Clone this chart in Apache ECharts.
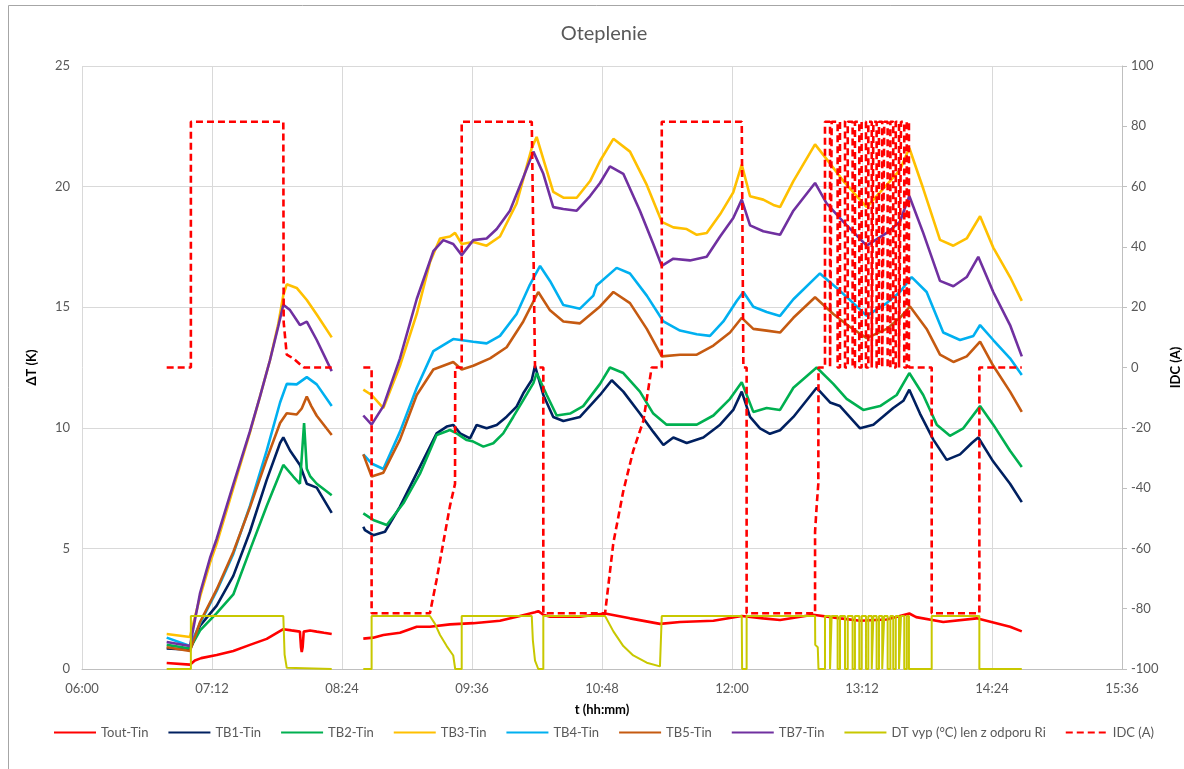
<!DOCTYPE html>
<html>
<head>
<meta charset="utf-8">
<title>Oteplenie</title>
<script src="https://cdn.jsdelivr.net/npm/echarts@6/dist/echarts.min.js"></script>
<style>
  html, body { margin: 0; padding: 0; background: #ffffff; }
  #chart { width: 1184px; height: 769px; }
</style>
</head>
<body>
<div id="chart"></div>
<script>
// Time is stored as minutes since midnight; '-' marks the pause between the two runs.
const timeTicks = ['06:00', '07:12', '08:24', '09:36', '10:48', '12:00', '13:12', '14:24', '15:36'];
const dtTicks = [0, 5, 10, 15, 20, 25];
const idcTicks = [-100, -80, -60, -40, -20, 0, 20, 40, 60, 80, 100];

const seriesNames = ['Tout-Tin', 'TB1-Tin', 'TB2-Tin', 'TB3-Tin', 'TB4-Tin', 'TB5-Tin', 'TB7-Tin',
  'DT vyp (°C) len z odporu Ri', 'IDC (A)'];

const toutTin = [
  [406.9,0.25],[419.8,0.18],[422.5,0.35],[426,0.45],[434.6,0.58],[443.8,0.75],[453.0,1.0],[462.3,1.25],
  [471.5,1.65],[476,1.6],[480.7,1.55],[481.3,0.9],[481.7,0.7],[482.2,0.9],[482.8,1.55],[486.3,1.6],
  [490,1.55],[494,1.5],[498.3,1.45],
  [506,'-'],
  [515.8,1.26],[521.3,1.3],[526.9,1.41],[536.1,1.5],[545.4,1.75],[552.7,1.75],[563.8,1.85],[576.7,1.9],
  [591.5,2.0],[602.6,2.2],[610.9,2.35],[612.7,2.4],[615.5,2.25],[619.2,2.17],[635.8,2.17],[649.7,2.3],
  [663.5,2.1],[680.1,1.87],[691.2,1.95],[709.7,2.0],[725.4,2.2],[737.3,2.1],[746.6,2.03],[764.9,2.25],
  [780,2.1],[790.9,2.0],[805.7,2.05],[818.2,2.3],[822,2.15],[837,1.95],[855.5,2.1],[874,1.75],[880.5,1.56]
];

const tb1Tin = [
  [406.9,0.85],[419.8,0.8],[425.4,1.8],[434.6,2.63],[443.8,3.86],[453.0,5.69],[462.3,7.84],[469.7,9.37],
  [471.5,9.6],[475.2,9.06],[480.7,8.46],[484.5,7.68],[490.0,7.52],[498.3,6.47],
  [506,'-'],
  [515.8,5.9],[516.7,5.76],[521.3,5.55],[527.8,5.69],[536.1,6.73],[547.2,8.39],[556.4,9.77],[562.0,10.05],
  [565.6,10.12],[569.4,9.77],[574.9,9.56],[578.6,10.12],[584.1,9.98],[589.7,10.12],[595.2,10.46],
  [600.7,10.88],[604.4,11.43],[609.1,11.98],[610.9,12.57],[615.5,11.36],[621.0,10.45],[626.6,10.28],
  [635.8,10.45],[646.9,11.36],[653.4,11.97],[659.8,11.5],[669.0,10.59],[676.4,9.83],[682.0,9.29],
  [687.5,9.6],[694.9,9.37],[704.1,9.6],[713.4,10.13],[720.7,10.74],[725.4,11.5],[730.0,10.45],
  [735.5,9.98],[741.0,9.75],[746.6,9.9],[754.0,10.45],[766.9,11.66],[774.3,11.05],[779.8,10.9],
  [790.9,9.98],[798.3,10.13],[809.3,10.82],[814.9,11.12],[818.2,11.58],[824.1,10.59],[831.5,9.51],
  [838.9,8.67],[846.3,8.9],[852.8,9.37],[856.4,9.6],[864.7,8.6],[874.0,7.68],[880.5,6.92]
];

const tb2Tin = [
  [406.9,1.0],[419.8,0.85],[425.4,1.6],[434.6,2.32],[443.8,3.09],[453.0,4.93],[462.3,6.76],[471.5,8.46],
  [477.0,7.98],[480.7,7.68],[481.7,7.7],[483.0,10.2],[484.5,8.3],[486.3,8.0],[490.0,7.68],[498.3,7.2],
  [506,'-'],
  [515.8,6.45],[521.3,6.18],[528.8,5.97],[538.0,6.87],[547.2,8.1],[556.4,9.7],[563.8,9.91],[567.5,9.77],
  [573.1,9.49],[576.7,9.43],[582.3,9.22],[587.8,9.36],[593.3,9.77],[598.9,10.46],[604.4,11.15],
  [610.0,11.85],[611.8,12.27],[617.4,11.36],[622.9,10.51],[630.3,10.59],[637.6,10.9],[646.9,11.82],
  [652.4,12.5],[659.8,12.27],[669.0,11.5],[676.4,10.59],[683.8,10.13],[691.2,10.13],[700.5,10.13],
  [709.7,10.51],[718.9,11.2],[725.4,11.89],[731.8,10.66],[739.2,10.82],[746.6,10.74],[754.0,11.66],
  [766.9,12.5],[776.1,11.82],[783.5,11.2],[792.7,10.74],[802.0,10.9],[811.2,11.36],[818.2,12.27],
  [825.9,11.36],[833.4,10.13],[840.7,9.67],[848.1,9.98],[857.4,10.9],[864.7,10.13],[874.0,9.05],[880.5,8.37]
];

const tb3Tin = [
  [406.9,1.45],[419.8,1.33],[425.4,3.0],[430.9,4.4],[434.6,5.2],[443.8,7.5],[453.0,9.8],[458.6,11.3],
  [464.1,12.8],[468.7,14.3],[471.5,15.5],[473.4,15.95],[478.9,15.8],[484.5,15.3],[490.0,14.7],[498.3,13.75],
  [506,'-'],
  [515.8,11.58],[520.4,11.36],[526.9,10.82],[536.1,12.57],[545.4,14.72],[552.7,16.86],[558.3,17.85],
  [563.8,17.93],[566.6,18.08],[570.3,17.62],[576.7,17.7],[584.1,17.55],[591.5,17.93],[600.7,19.3],
  [606.3,20.84],[609.1,21.6],[611.8,22.06],[615.5,21.14],[621.0,19.78],[626.6,19.54],[634.0,19.54],
  [641.4,20.23],[646.9,21.06],[654.3,21.98],[663.5,21.45],[672.8,20.07],[681.1,18.54],[687.5,18.31],
  [694.9,18.24],[700.5,18.0],[706.0,18.08],[713.4,18.85],[720.7,19.76],[725.4,20.91],[730.0,19.6],
  [737.3,19.46],[742.9,19.24],[746.6,19.15],[754.0,20.23],[766.0,21.75],[772.4,21.14],[781.7,20.23],
  [794.6,19.15],[805.7,20.07],[813.0,20.69],[818.2,21.6],[825.9,19.92],[835.2,17.79],[842.6,17.55],
  [850.0,17.85],[857.4,18.77],[864.7,17.47],[874.0,16.25],[880.5,15.26]
];

const tb4Tin = [
  [406.9,1.3],[419.8,0.95],[425.4,1.9],[434.6,3.24],[443.8,4.77],[453.0,6.76],[462.3,9.05],[469.7,11.05],
  [473.4,11.82],[478.9,11.8],[484.5,12.1],[490.0,11.8],[498.3,10.9],
  [506,'-'],
  [515.8,8.9],[520.4,8.52],[526.9,8.29],[536.1,9.83],[545.4,11.66],[554.6,13.18],[565.6,13.68],
  [576.7,13.57],[584.1,13.5],[591.5,13.81],[600.7,14.72],[608.1,15.94],[613.7,16.71],[619.2,16.09],
  [626.6,15.09],[635.8,14.94],[643.2,15.48],[645.0,15.9],[656.1,16.63],[663.5,16.4],[672.8,15.48],
  [682.0,14.41],[691.2,14.03],[700.5,13.88],[707.8,13.81],[715.2,14.41],[722.6,15.26],[726.3,15.63],
  [731.8,15.02],[739.2,14.8],[746.6,14.64],[754.0,15.33],[768.7,16.4],[778.0,15.8],[787.2,15.17],
  [794.6,14.64],[805.7,15.17],[813.0,15.63],[819.5,16.25],[827.8,15.63],[837.0,13.95],[846.3,13.64],
  [853.7,13.81],[857.4,14.26],[864.7,13.64],[874.0,12.88],[880.5,12.19]
];

const tb5Tin = [
  [406.9,0.9],[419.8,0.75],[425.4,1.95],[434.6,3.3],[443.8,4.85],[453.0,6.7],[462.3,8.7],[469.7,10.2],
  [473.4,10.6],[478.9,10.55],[481.7,10.8],[484.5,11.3],[487,10.9],[490,10.5],[498.3,9.7],
  [506,'-'],
  [515.8,8.9],[520.4,7.98],[526.9,8.14],[536.1,9.51],[545.4,11.36],[554.6,12.42],[565.6,12.73],
  [570.3,12.42],[576.7,12.57],[586.0,12.88],[595.2,13.34],[604.4,14.41],[612.7,15.63],[619.2,14.87],
  [626.6,14.41],[635.8,14.33],[646.9,15.03],[654.3,15.63],[663.5,15.17],[672.8,14.1],[681.1,12.96],
  [691.2,13.03],[700.5,13.03],[709.7,13.41],[718.9,13.95],[725.4,14.56],[731.8,14.1],[739.2,14.03],
  [746.6,13.95],[754.0,14.56],[766.0,15.41],[776.1,14.72],[785.4,14.18],[794.6,13.72],[805.7,14.1],
  [813.0,14.56],[818.6,15.03],[827.8,14.1],[835.2,13.03],[842.6,12.73],[850.0,12.96],[857.4,13.57],
  [864.7,12.57],[874.0,11.5],[880.5,10.66]
];

const tb7Tin = [
  [406.9,1.12],[419.8,0.95],[425.4,3.15],[430.9,4.6],[434.6,5.4],[443.8,7.65],[453.0,9.85],[458.6,11.3],
  [464.1,12.8],[468.7,14.2],[471.5,15.1],[475.2,14.88],[480.7,14.26],[484.5,14.4],[490.0,13.64],[498.3,12.35],
  [506,'-'],
  [515.8,10.51],[520.4,10.13],[526.9,10.9],[536.1,12.88],[545.4,15.34],[554.6,17.32],[560.1,17.78],
  [565.6,17.62],[570.3,17.16],[576.7,17.78],[584.1,17.85],[589.7,18.24],[597.0,19.0],[604.4,20.38],
  [610.0,21.45],[615.5,20.53],[621.0,19.15],[626.6,19.07],[634.0,19.0],[641.4,19.61],[646.9,20.15],
  [652.4,20.84],[659.8,20.53],[669.0,19.0],[676.4,17.62],[681.1,16.71],[687.5,17.01],[696.7,16.94],
  [706.0,17.09],[713.4,17.93],[720.7,18.7],[725.4,19.46],[730.0,18.39],[737.3,18.15],[746.6,18.0],
  [754.0,19.0],[766.0,20.15],[772.4,19.3],[781.7,18.54],[794.6,17.55],[805.7,18.08],[813.0,18.54],
  [818.2,19.61],[825.9,18.08],[835.2,16.09],[842.6,15.87],[850.0,16.25],[856.4,17.09],[864.7,15.63],
  [874.0,14.26],[880.5,12.96]
];

const dtVyp = [
  [406.9,0],[420.3,0],[420.3,2.2],[471.5,2.2],[472.2,0.6],[473.4,0.05],[474,0],[498.3,0],
  [506,'-'],
  [515.8,0],[520.4,0],[520.4,2.2],[552.7,2.2],[555.5,1.87],[558.3,1.41],[562.0,0.95],[565.6,0.56],
  [566.6,0.5],[566.7,0],[570.3,0],[570.3,2.2],[609.1,2.2],[609.7,1.2],[610.9,0.35],[612.7,0],[615.5,0],
  [615.5,2.2],[649.7,2.2],[654.3,1.56],[659.8,0.95],[665.3,0.56],[672.8,0.26],[680.1,0.11],[681.1,0.1],
  [681.1,2.2],[725.4,2.2],[725.6,0],[728.1,0],[728.1,2.2],[766.0,2.2],[766.1,1.0],[767.5,0.9],[767.9,0],
  [771.5,0],
  [771.5,2.2],[774.3,2.2],[774.3,0],[775.2,0],[775.2,2.2],[778.5,2.2],[778.5,0],[779.8,0],[779.8,2.2],
  [782.6,2.2],[782.6,0],[784.1,0],[784.1,2.2],[786.8,2.2],[786.8,0],[788.1,0],[788.1,2.2],[790.5,2.2],
  [790.5,0],[791.8,0],[791.8,2.2],[794.2,2.2],[794.2,0],[795.5,0],[795.5,2.2],[797.4,2.2],[797.4,0],
  [798.3,0],[798.3,2.2],[800.1,2.2],[800.1,0],[801.4,0],[801.4,2.2],[803.2,2.2],[803.2,0],[804.3,0],
  [804.3,2.2],[806.2,2.2],[806.2,0],[807.7,0],[807.7,2.2],[809.3,2.2],[809.3,0],[810.7,0],[810.7,2.2],
  [812.5,2.2],[812.5,0],[813.6,0],[813.6,2.2],[815.4,2.2],[815.4,0],[816.8,0],[816.8,2.2],[818.0,2.2],
  [818.0,0],[830.6,0],[830.6,2.2],[857.0,2.2],[857.0,0],[880.5,0]
];

const idc = [
  [406.9,0],[420.3,0],[420.3,81.5],[471.5,81.5],[471.7,15],[473.4,4.3],[477,3],[481.7,0.6],[483,0],[498.3,0],
  [506,'-'],
  [515.8,0],[520.4,0],[520.4,-81.5],[552.7,-81.5],[556.4,-70.4],[560.1,-58.1],[563.8,-45.9],[566.6,-38.6],
  [566.7,0],[570.3,0],[570.3,81.5],[609.1,81.5],[610.9,0],[615.5,0],[615.5,-81.5],[649.7,-81.5],
  [654.3,-58.1],[659.8,-41],[665.3,-27.6],[670.9,-17.7],[675.5,0],[681.1,0],[681.1,81.5],[725.4,81.5],
  [726.3,0],[728.1,0],[728.1,-81.5],[766.0,-81.5],[766.0,-54.5],[767.0,-45],[767.8,-38.6],[767.9,0],
  [771.5,0],
  [771.5,81.5],[774.3,81.5],[774.3,0],[775.2,0],[775.2,81.5],[778.5,81.5],[778.5,0],[779.8,0],[779.8,81.5],
  [782.6,81.5],[782.6,0],[784.1,0],[784.1,81.5],[786.8,81.5],[786.8,0],[788.1,0],[788.1,81.5],[790.5,81.5],
  [790.5,0],[791.8,0],[791.8,81.5],[794.2,81.5],[794.2,0],[795.5,0],[795.5,81.5],[797.4,81.5],[797.4,0],
  [798.3,0],[798.3,81.5],[800.1,81.5],[800.1,0],[801.4,0],[801.4,81.5],[803.2,81.5],[803.2,0],[804.3,0],
  [804.3,81.5],[806.2,81.5],[806.2,0],[807.7,0],[807.7,81.5],[809.3,81.5],[809.3,0],[810.7,0],[810.7,81.5],
  [812.5,81.5],[812.5,0],[813.6,0],[813.6,81.5],[815.4,81.5],[815.4,0],[816.8,0],[816.8,81.5],[818.0,81.5],
  [818.0,0],[830.6,0],[830.6,-81.5],[857.0,-81.5],[857.0,0],[880.5,0]
];

const colors = ['#ff0000', '#002060', '#00b050', '#ffc000', '#00b0f0', '#c55a11', '#7030a0', '#c8c800', '#ff0000'];
const seriesData = [toutTin, tb1Tin, tb2Tin, tb3Tin, tb4Tin, tb5Tin, tb7Tin, dtVyp, idc];

const fontFamily = 'Lato, "Liberation Sans", sans-serif';
const textColor = '#595959';
const gridColor = '#d9d9d9';
const axisColor = '#bfbfbf';

const series = seriesNames.map(function (name, i) {
  const isIdc = i === 8;
  const isDt = i === 7;
  return {
    name: name,
    type: 'line',
    yAxisIndex: isIdc ? 1 : 0,
    data: seriesData[i],
    symbol: 'none',
    connectNulls: false,
    animation: false,
    z: 2 + i,
    lineStyle: {
      color: colors[i],
      width: isDt ? 2 : 2.6,
      type: isIdc ? [7, 4] : 'solid'
    },
    itemStyle: { color: colors[i] }
  };
});

const chart = echarts.init(document.getElementById('chart'), null, { renderer: 'canvas' });
chart.setOption({
  animation: false,
  backgroundColor: '#ffffff',
  title: {
    text: 'Oteplenie',
    left: 599,
    textAlign: 'center',
    top: 19,
    textStyle: { fontFamily: fontFamily, fontSize: 20, fontWeight: 'normal', color: textColor }
  },
  graphic: [{
    type: 'rect',
    silent: true,
    shape: { x: 8.5, y: 5.5, width: 1200, height: 800 },
    style: { fill: null, stroke: '#a6a6a6', lineWidth: 1 }
  }],
  grid: { left: 82, right: 62, top: 66, bottom: 100, outerBoundsMode: 'none', containLabel: false },
  legend: {
    data: seriesNames,
    left: 48,
    top: 721,
    itemWidth: 42,
    itemHeight: 12,
    itemGap: 19,
    itemStyle: { opacity: 0 },
    textStyle: { fontFamily: fontFamily, fontSize: 13, color: textColor }
  },
  xAxis: {
    type: 'value',
    min: 360,
    max: 936,
    interval: 72,
    name: 't (hh:mm)',
    nameLocation: 'middle',
    nameGap: 34,
    nameTextStyle: { fontFamily: fontFamily, fontSize: 13, fontWeight: 'bold', color: '#000000' },
    axisLine: { show: true, lineStyle: { color: axisColor, width: 1 } },
    axisTick: { show: false },
    axisLabel: {
      margin: 13,
      fontFamily: fontFamily,
      fontSize: 13,
      color: textColor,
      formatter: function (v) { return timeTicks[Math.round((v - 360) / 72)]; }
    },
    splitLine: { show: true, lineStyle: { color: gridColor, width: 1 } }
  },
  yAxis: [{
    type: 'value',
    min: dtTicks[0],
    max: dtTicks[dtTicks.length - 1],
    interval: 5,
    name: 'ΔT (K)',
    nameLocation: 'middle',
    nameRotate: 90,
    nameGap: 44,
    nameTextStyle: { fontFamily: fontFamily, fontSize: 13, fontWeight: 'bold', color: '#000000' },
    axisLine: { show: false },
    axisTick: { show: false },
    axisLabel: { margin: 12, fontFamily: fontFamily, fontSize: 13, color: textColor },
    splitLine: { show: true, lineStyle: { color: gridColor, width: 1 } }
  }, {
    type: 'value',
    position: 'right',
    min: idcTicks[0],
    max: idcTicks[idcTicks.length - 1],
    interval: 20,
    name: 'IDC (A)',
    nameLocation: 'middle',
    nameRotate: 90,
    nameGap: 44,
    nameTextStyle: { fontFamily: fontFamily, fontSize: 13, fontWeight: 'bold', color: '#000000' },
    axisLine: { show: true, lineStyle: { color: axisColor, width: 1 } },
    axisTick: { show: true, inside: false, length: 5, lineStyle: { color: axisColor } },
    axisLabel: { margin: 9, fontFamily: fontFamily, fontSize: 13, color: textColor },
    splitLine: { show: false }
  }],
  series: series
});
</script>
</body>
</html>
